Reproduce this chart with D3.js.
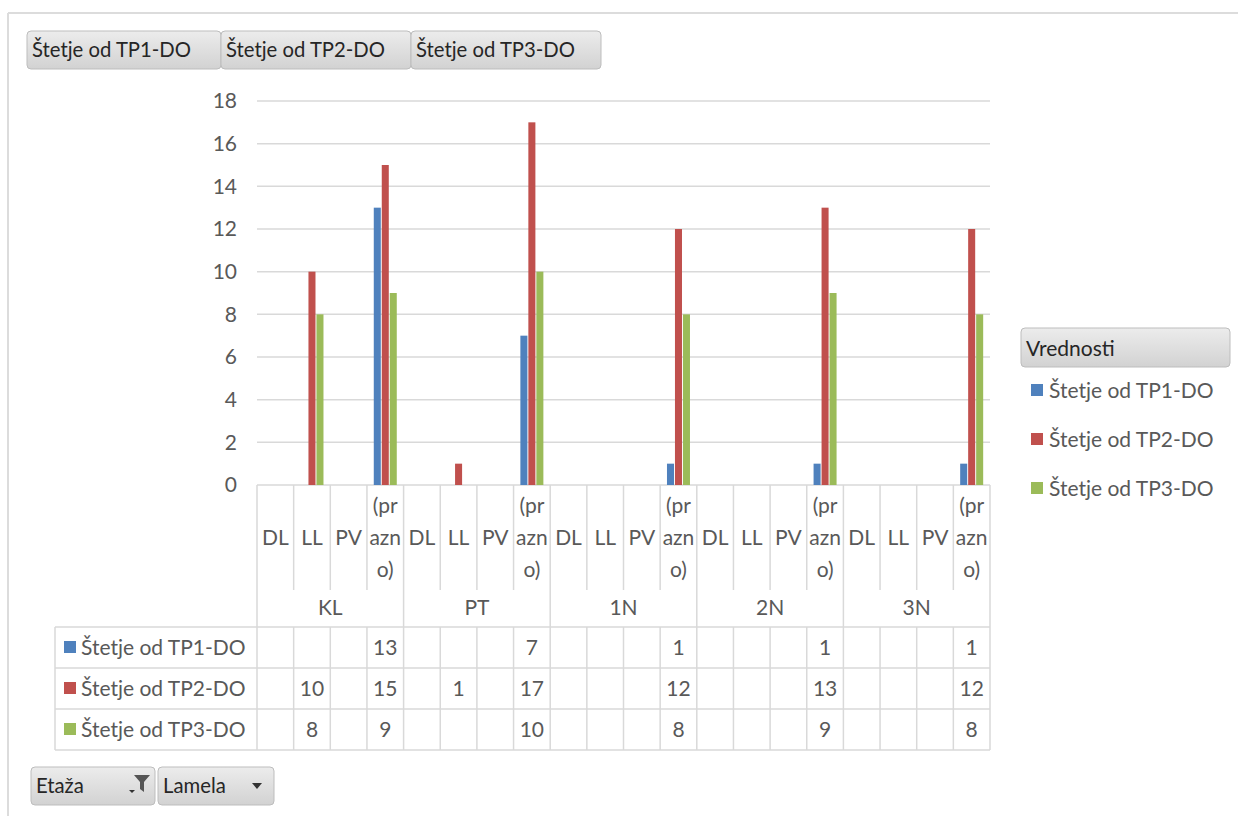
<!DOCTYPE html>
<html>
<head>
<meta charset="utf-8">
<script src="https://cdn.jsdelivr.net/npm/d3@7"></script>
<style>
  html, body { margin: 0; padding: 0; background: #fff; }
  svg { display: block; font-family: Lato, "Noto Sans", sans-serif; }
</style>
</head>
<body>
<svg id="chart" width="1238" height="816"></svg>
<script>
// Pivot data: floor (Etaža) x wing (Lamela), three count series
const groups = ["KL", "PT", "1N", "2N", "3N"];
const subs = ["DL", "LL", "PV", "(prazno)"];
const seriesNames = ["Štetje od TP1-DO", "Štetje od TP2-DO", "Štetje od TP3-DO"];
const seriesColors = ["#4f81bd", "#c0504d", "#9bbb59"];
const tp1 = [null, null, null, 13,  null, null, null, 7,  null, null, null, 1,  null, null, null, 1,  null, null, null, 1];
const tp2 = [null, 10, null, 15,    null, 1, null, 17,    null, null, null, 12, null, null, null, 13, null, null, null, 12];
const tp3 = [null, 8, null, 9,      null, null, null, 10, null, null, null, 8,  null, null, null, 9,  null, null, null, 8];
const yTicks = [0, 2, 4, 6, 8, 10, 12, 14, 16, 18];
const filterButtons = ["Etaža", "Lamela"];
const legendTitle = "Vrednosti";

const seriesValues = [tp1, tp2, tp3];
const cats = [];
groups.forEach(g => subs.forEach(s => cats.push({ g, s, key: g + "|" + s })));

const svg = d3.select("#chart");
const grid = "#d9d9d9";
const textCol = "#595959";
const fs = 21;

// Frame
svg.append("line").attr("x1", 8).attr("x2", 1238).attr("y1", 13).attr("y2", 13)
  .attr("stroke", "#dcdcdc").attr("stroke-width", 2);
svg.append("line").attr("x1", 8).attr("x2", 8).attr("y1", 13).attr("y2", 816)
  .attr("stroke", "#dcdcdc").attr("stroke-width", 2);

// Gradient for pivot field buttons
const defs = svg.append("defs");
const grad = defs.append("linearGradient").attr("id", "btn").attr("x1", 0).attr("x2", 0).attr("y1", 0).attr("y2", 1);
grad.append("stop").attr("offset", "0%").attr("stop-color", "#ececec");
grad.append("stop").attr("offset", "100%").attr("stop-color", "#d2d2d2");

function button(x, y, w, h, label, size) {
  const g = svg.append("g").attr("transform", `translate(${x},${y})`);
  g.append("rect").attr("width", w).attr("height", h).attr("rx", 4)
    .attr("fill", "url(#btn)").attr("stroke", "#bdbdbd");
  g.append("text").attr("x", 5).attr("y", h / 2 + 7).attr("font-size", size || 20)
    .attr("fill", "#262626").text(label);
  return g;
}

// Value field buttons on top
const topX = [27, 221, 411];
seriesNames.forEach((n, i) => button(topX[i], 31, (i === 0 ? 194 : 190), 38, n, 20.3));

// Scales
const x0 = 257, x1 = 990, yTop = 101, yBot = 485;
const x = d3.scaleBand().domain(cats.map(c => c.key)).range([x0, x1]).padding(0);
const y = d3.scaleLinear().domain([0, 18]).range([yBot, yTop]);
const bw = x.bandwidth();
const inner = d3.scaleBand().domain(seriesNames).range([bw / 2 - 11.5, bw / 2 + 11.5]).paddingInner(0.12);

// Gridlines
svg.append("g").selectAll("line").data(yTicks).join("line")
  .attr("x1", x0).attr("x2", x1).attr("y1", d => y(d)).attr("y2", d => y(d))
  .attr("stroke", grid).attr("stroke-width", 1.5);

// Y axis
const yAxis = svg.append("g").attr("transform", `translate(${x0},0)`)
  .call(d3.axisLeft(y).tickValues(yTicks).tickSize(0).tickPadding(20));
yAxis.select(".domain").remove();
yAxis.selectAll("text").attr("font-size", fs).attr("fill", textCol)
  .attr("font-family", "Lato, 'Noto Sans', sans-serif");

// Bars
seriesValues.forEach((vals, si) => {
  svg.append("g").selectAll("rect")
    .data(cats.map((c, i) => ({ c, v: vals[i] })).filter(d => d.v != null))
    .join("rect")
    .attr("x", d => x(d.c.key) + inner(seriesNames[si]))
    .attr("width", inner.bandwidth())
    .attr("y", d => y(d.v))
    .attr("height", d => y(0) - y(d.v))
    .attr("fill", seriesColors[si]);
});

// Category axis table
const catBottom = 590, grpBottom = 627;
const rowH = 41;
const tableLeft = 55, tableBottom = grpBottom + rowH * 3;
const lines = svg.append("g").attr("stroke", grid).attr("stroke-width", 1.5);

// vertical separators
cats.forEach((c, i) => {
  const xv = x(c.key);
  const isGroupEdge = i % subs.length === 0;
  lines.append("line").attr("x1", xv).attr("x2", xv)
    .attr("y1", yBot).attr("y2", isGroupEdge ? tableBottom : catBottom);
  if (!isGroupEdge) {
    lines.append("line").attr("x1", xv).attr("x2", xv).attr("y1", grpBottom).attr("y2", tableBottom);
  }
});
lines.append("line").attr("x1", x1).attr("x2", x1).attr("y1", yBot).attr("y2", tableBottom);
lines.append("line").attr("x1", tableLeft).attr("x2", tableLeft).attr("y1", grpBottom).attr("y2", tableBottom);
// horizontal rows
[0, 1, 2, 3].forEach(r => {
  const yy = grpBottom + r * rowH;
  lines.append("line").attr("x1", tableLeft).attr("x2", x1).attr("y1", yy).attr("y2", yy);
});

// sub-category labels (wrapped into 3-character chunks when too wide)
const catLabels = svg.append("g").attr("font-size", fs).attr("fill", textCol).attr("text-anchor", "middle");
cats.forEach(c => {
  const cx = x(c.key) + bw / 2;
  if (c.s.length > 3) {
    const parts = c.s.match(/.{1,3}/g);
    const t = catLabels.append("text").attr("x", cx).attr("y", 0);
    parts.forEach((p, k) => t.append("tspan").attr("x", cx).attr("y", 513 + k * 32).text(p));
  } else {
    catLabels.append("text").attr("x", cx).attr("y", 545).text(c.s);
  }
});

// group labels
groups.forEach(g => {
  const gx = x(g + "|" + subs[0]);
  const gw = bw * subs.length;
  catLabels.append("text").attr("x", gx + gw / 2).attr("y", 615).text(g);
});

// data table
seriesNames.forEach((n, si) => {
  const ry = grpBottom + si * rowH;
  svg.append("rect").attr("x", 64).attr("y", ry + 14).attr("width", 12).attr("height", 12)
    .attr("fill", seriesColors[si]);
  svg.append("text").attr("x", 81).attr("y", ry + 28).attr("font-size", fs).attr("fill", textCol).text(n);
  svg.append("g").selectAll("text")
    .data(cats.map((c, i) => ({ c, v: seriesValues[si][i] })).filter(d => d.v != null))
    .join("text")
    .attr("x", d => x(d.c.key) + bw / 2).attr("y", ry + 28)
    .attr("text-anchor", "middle").attr("font-size", fs).attr("fill", textCol)
    .text(d => d.v);
});

// Legend
const lg = svg.append("g");
lg.append("rect").attr("x", 1021).attr("y", 328).attr("width", 209).attr("height", 39).attr("rx", 4)
  .attr("fill", "url(#btn)").attr("stroke", "#bdbdbd");
lg.append("text").attr("x", 1026).attr("y", 356).attr("font-size", fs).attr("fill", "#262626").text(legendTitle);
seriesNames.forEach((n, i) => {
  const ly = 390 + i * 49;
  lg.append("rect").attr("x", 1031).attr("y", ly - 6).attr("width", 12).attr("height", 12).attr("fill", seriesColors[i]);
  lg.append("text").attr("x", 1049).attr("y", ly + 8).attr("font-size", fs).attr("fill", textCol).text(n);
});

// Filter buttons at the bottom
const b1 = button(31, 767, 124, 38, filterButtons[0], 20.3);
// dropdown arrow + funnel
b1.append("path").attr("d", "M98,23 l6,0 l-3,3 z").attr("fill", "#333");
b1.append("path").attr("d", "M103,8 l16,0 l-6,7 l0,10 l-4,-3 l0,-7 z").attr("fill", "#555");
const b2 = button(158, 767, 116, 38, filterButtons[1], 20.3);
b2.append("path").attr("d", "M94,16 l10,0 l-5,6 z").attr("fill", "#333");
</script>
</body>
</html>
